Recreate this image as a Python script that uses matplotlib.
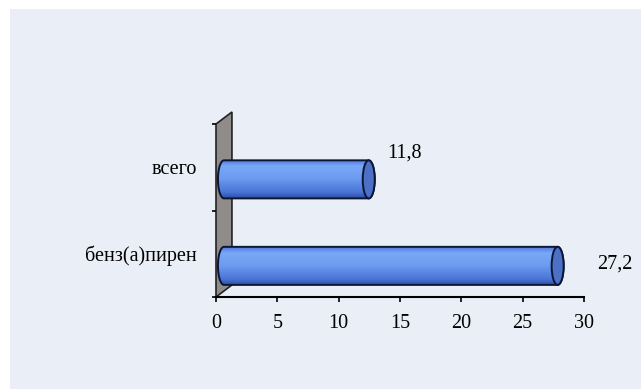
import numpy as np
import matplotlib.pyplot as plt
from matplotlib.path import Path
from matplotlib.patches import PathPatch, Ellipse, Polygon, Rectangle
from matplotlib.colors import LinearSegmentedColormap

categories = ['бенз(а)пирен', 'всего']
values = [27.2, 11.8]
value_labels = ['27,2', '11,8']
xticks = [0, 5, 10, 15, 20, 25, 30]

plt.rcParams['font.family'] = ['Liberation Serif', 'DejaVu Serif']

W, H = 641, 389
fig = plt.figure(figsize=(W / 100, H / 100), dpi=100, facecolor='white')
fig.patches.append(Rectangle((10 / W, 0), 1, 1 - 9 / H, transform=fig.transFigure,
                             facecolor='#eaeef7', edgecolor='none', zorder=-5))

ax = fig.add_axes([216 / W, (H - 297) / H, 368 / W, 173 / H])
ax.patch.set_visible(False)
for s in ['top', 'right', 'left']:
    ax.spines[s].set_visible(False)
ax.spines['bottom'].set_linewidth(1.5)

# 3d depth of the wall and the cylinders
dx, dy = 1.3, 0.139
shift = -0.14      # cylinders sit a bit lower than the category centre
h = 0.44           # cylinder diameter (y units)
rx = 0.49          # half width of the end ellipse (x units)
x0 = 0.65

wall = Polygon([(0, -0.5), (0, 1.5), (dx, 1.5 + dy), (dx, -0.5 + dy)], closed=True,
               facecolor='#8f8c89', edgecolor='#222222', lw=1.2, clip_on=False, zorder=1)
ax.add_patch(wall)

cmap = LinearSegmentedColormap.from_list('cyl', [
    (0.0, '#2c50a6'), (0.15, '#4a74d6'), (0.5, '#6c9bf0'),
    (0.82, '#79a8f7'), (1.0, '#4a74d6')])
grad = np.linspace(0, 1, 200)[:, None]

for i, (v, lab) in enumerate(zip(values, value_labels)):
    c = i + shift
    x1 = v + x0
    top, bot = c + h / 2, c - h / 2
    t_r = np.linspace(np.pi / 2, -np.pi / 2, 60)
    t_l = np.linspace(3 * np.pi / 2, np.pi / 2, 60)
    pts = [(x0, top), (x1, top)]
    pts += list(zip(x1 + rx * np.cos(t_r), c + h / 2 * np.sin(t_r)))
    pts += [(x0, bot)]
    pts += list(zip(x0 + rx * np.cos(t_l), c + h / 2 * np.sin(t_l)))
    body = PathPatch(Path(pts, closed=False), facecolor='none', edgecolor='#0b1637',
                     lw=1.4, zorder=4, clip_on=False)
    ax.add_patch(body)
    im = ax.imshow(grad, extent=(x0 - rx, x1 + rx, bot, top), origin='lower',
                   aspect='auto', cmap=cmap, zorder=3)
    im.set_clip_path(body)
    ax.add_patch(Ellipse((x1, c), 2 * rx, h, facecolor='#4c70c6', edgecolor='#0b1637',
                         lw=1.4, zorder=5, clip_on=False))

# value labels
ax.text(values[0] + 3.85, 0 - 0.118, value_labels[0], ha='left', va='center', fontsize=14.5)
ax.text(values[1] + 2.14, 1 + 0.165, value_labels[1], ha='left', va='center', fontsize=14.5)

ax.set_xlim(0, 30)
ax.set_ylim(-0.5, 1.5)
ax.set_xticks(xticks)
ax.set_xticklabels([str(t) for t in xticks])
ax.set_yticks([0, 1])
ax.set_yticklabels(categories)
ax.set_yticks([-0.5, 0.5, 1.5], minor=True)
ax.tick_params(axis='x', direction='out', length=3.6, width=1.2, labelsize=14.5, pad=9)
ax.tick_params(axis='y', which='major', length=0, labelsize=14.5, pad=13.5)
ax.tick_params(axis='y', which='minor', direction='out', length=3.2, width=1.2)

fig.savefig('out.png', dpi=100, facecolor='white')
